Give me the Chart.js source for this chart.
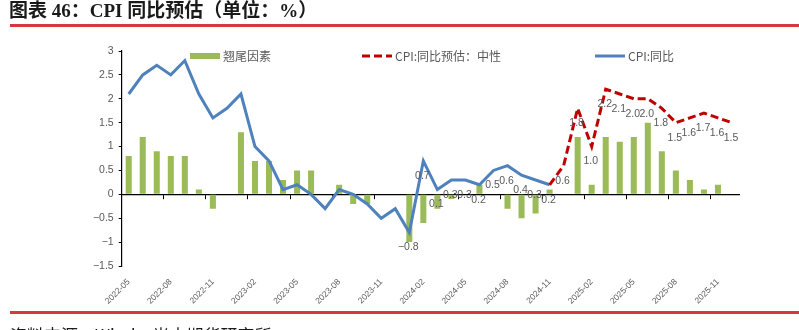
<!DOCTYPE html>
<html lang="zh-CN">
<head>
<meta charset="utf-8">
<title>CPI 同比预估</title>
<script src="https://cdn.jsdelivr.net/npm/chart.js@4.4.1/dist/chart.umd.min.js"></script>
<style>
  html, body { margin: 0; padding: 0; background: #fff; }
  body { width: 799px; height: 330px; position: relative; overflow: hidden; }
  .title {
    position: absolute; left: 9px; top: -5px; line-height: 19px;
    font: bold 19px "Liberation Serif", "Noto Sans CJK SC", serif;
    color: #1a1a1a; white-space: nowrap;
  }
  .rule { position: absolute; left: 10px; right: 0; height: 3px; background: #d7373d; }
  .rule.top { top: 24px; }
  .rule.bottom { top: 311px; }
  .source {
    position: absolute; left: 10px; top: 322px; line-height: 17px;
    font: 17px "Noto Sans CJK SC", sans-serif; color: #1a1a1a; white-space: nowrap;
  }
  #wrap { position: absolute; left: 0; top: 0; width: 799px; height: 330px; }
</style>
</head>
<body>
<div id="wrap"><canvas id="cpi"></canvas></div>
<div class="title">图表 46：CPI 同比预估（单位：%）</div>
<div class="rule top"></div>
<div class="rule bottom"></div>
<div class="source">资料来源：Wind，光大期货研究所</div>

<script>
// ---- data ----
const months = [
  '2022-05','2022-06','2022-07','2022-08','2022-09','2022-10','2022-11','2022-12',
  '2023-01','2023-02','2023-03','2023-04','2023-05','2023-06','2023-07','2023-08','2023-09','2023-10','2023-11','2023-12',
  '2024-01','2024-02','2024-03','2024-04','2024-05','2024-06','2024-07','2024-08','2024-09','2024-10','2024-11','2024-12',
  '2025-01','2025-02','2025-03','2025-04','2025-05','2025-06','2025-07','2025-08','2025-09','2025-10','2025-11','2025-12'
];

// 翘尾因素, 2022-05 .. 2025-12
const carryover = [
  0.8, 1.2, 0.9, 0.8, 0.8, 0.1, -0.3, 0,
  1.3, 0.7, 0.7, 0.3, 0.5, 0.5, 0, 0.2, -0.2, -0.2, 0, 0,
  -1.0, -0.6, -0.3, -0.1, 0, 0.2, 0, -0.3, -0.5, -0.4, 0.1, 0,
  1.2, 0.2, 1.2, 1.1, 1.2, 1.5, 0.9, 0.5, 0.3, 0.1, 0.2, 0
];

// CPI:同比, 2022-05 .. 2024-11
const cpiActual = [
  2.1, 2.5, 2.7, 2.5, 2.8, 2.1, 1.6, 1.8,
  2.1, 1.0, 0.7, 0.1, 0.2, 0.0, -0.3, 0.1, 0.0, -0.2, -0.5, -0.3,
  -0.8, 0.7, 0.1, 0.3, 0.3, 0.2, 0.5, 0.6, 0.4, 0.3, 0.2
];

// CPI:同比预估：中性, 2024-01 .. 2025-12 (line drawn from 2024-11 on)
const forecastStart = '2024-01';
const drawFrom = '2024-11';
const cpiForecast = [
  -0.8, 0.7, 0.1, 0.3, 0.3, 0.2, 0.5, 0.6, 0.4, 0.3, 0.2, 0.6,
  1.8, 1.0, 2.2, 2.1, 2.0, 2.0, 1.8, 1.5, 1.6, 1.7, 1.6, 1.5
];

const yTicks = { min: -1.5, max: 3, step: 0.5 };

// ---- helpers ----
const GREEN = '#9bbb59', BLUE = '#4f81bd', RED = '#c00000', GREY = '#595959';
const fmt = v => (v < 0 ? '\u2212' + Math.abs(v) : String(v));
const fmt1 = v => (v < 0 ? '\u2212' + Math.abs(v).toFixed(1) : v.toFixed(1));

const fcIdx = months.indexOf(forecastStart);
const fcDrawIdx = months.indexOf(drawFrom);
const forecastSeries = months.map((_, i) => (i >= fcIdx ? cpiForecast[i - fcIdx] : null));

// point labels under the forecast series
const pointLabels = {
  id: 'pointLabels',
  afterDatasetsDraw(chart, args, opts) {
    const meta = chart.getDatasetMeta(opts.datasetIndex);
    const data = chart.data.datasets[opts.datasetIndex].data;
    const ctx = chart.ctx;
    ctx.save();
    ctx.font = '10.5px "Liberation Sans", sans-serif';
    ctx.fillStyle = GREY;
    ctx.textAlign = 'center';
    ctx.textBaseline = 'middle';
    meta.data.forEach((pt, i) => {
      const v = data[i];
      if (v == null) return;
      ctx.fillText(fmt1(v), pt.x - 1, pt.y + 15);
    });
    ctx.restore();
  }
};

// legend row laid out at fixed x positions
const legendRow = {
  id: 'legendRow',
  afterDraw(chart, args, opts) {
    const ctx = chart.ctx;
    ctx.save();
    ctx.font = '12px "Noto Sans CJK SC", sans-serif';
    ctx.textBaseline = 'middle';
    chart.data.datasets.forEach((ds, i) => {
      const x = opts.x[i], y = opts.y;
      if (ds.type === 'bar') {
        ctx.fillStyle = ds.backgroundColor;
        ctx.fillRect(x, y - 3, 30, 6);
      } else {
        ctx.strokeStyle = ds.borderColor;
        ctx.lineWidth = 3;
        ctx.setLineDash(ds.borderDash || []);
        ctx.beginPath();
        ctx.moveTo(x, y);
        ctx.lineTo(x + 30, y);
        ctx.stroke();
        ctx.setLineDash([]);
      }
      ctx.fillStyle = GREY;
      ctx.fillText(ds.label, x + 33, y);
    });
    ctx.restore();
  }
};

new Chart(document.getElementById('cpi'), {
  data: {
    labels: months,
    datasets: [
      {
        type: 'bar', label: '翘尾因素', data: carryover,
        backgroundColor: GREEN, barPercentage: 0.43, categoryPercentage: 1,
        order: 3
      },
      {
        type: 'line', label: 'CPI:同比预估：中性', data: forecastSeries,
        borderColor: RED, borderWidth: 3, borderDash: [8, 4],
        pointRadius: 0, tension: 0,
        segment: { borderColor: c => (c.p0DataIndex < fcDrawIdx ? 'rgba(0,0,0,0)' : RED) },
        order: 1
      },
      {
        type: 'line', label: 'CPI:同比', data: cpiActual,
        borderColor: BLUE, borderWidth: 3, pointRadius: 0, tension: 0,
        order: 2
      }
    ]
  },
  options: {
    responsive: true,
    maintainAspectRatio: false,
    animation: false,
    layout: { padding: { top: 51, right: 60, bottom: 24, left: 0 } },
    plugins: {
      legend: { display: false },
      tooltip: { enabled: false },
      pointLabels: { datasetIndex: 1 },
      legendRow: { x: [190, 362, 595], y: 56 }
    },
    scales: {
      x: {
        type: 'category',
        offset: true,
        grid: { display: false, drawTicks: false },
        border: { display: false },
        ticks: {
          autoSkip: false, minRotation: 45, maxRotation: 45, padding: 11,
          color: GREY, font: { family: 'Liberation Sans', size: 8.5 },
          callback(v, i) { return i % 3 === 0 ? this.getLabelForValue(v) : ''; }
        },
        afterFit(s) { s.height = 40; }
      },
      x2: {
        type: 'category', axis: 'x',
        position: { y: 0 },
        offset: true,
        grid: {
          offset: true, drawOnChartArea: false, drawTicks: true, tickLength: 4,
          color: c => (c.index % 3 === 0 ? '#000' : 'rgba(0,0,0,0)')
        },
        border: { color: '#000', width: 1.2 },
        ticks: { display: false, autoSkip: false }
      },
      y: {
        min: yTicks.min, max: yTicks.max,
        grid: { drawOnChartArea: false, drawTicks: true, tickLength: 3, color: '#000' },
        border: { color: '#000', width: 1.2 },
        ticks: {
          stepSize: yTicks.step, padding: 5, color: GREY,
          font: { family: 'Liberation Sans', size: 10.5 },
          callback: v => fmt(v)
        },
        afterFit(s) { s.width = 121.7; }
      }
    }
  },
  plugins: [pointLabels, legendRow]
});
</script>
</body>
</html>
